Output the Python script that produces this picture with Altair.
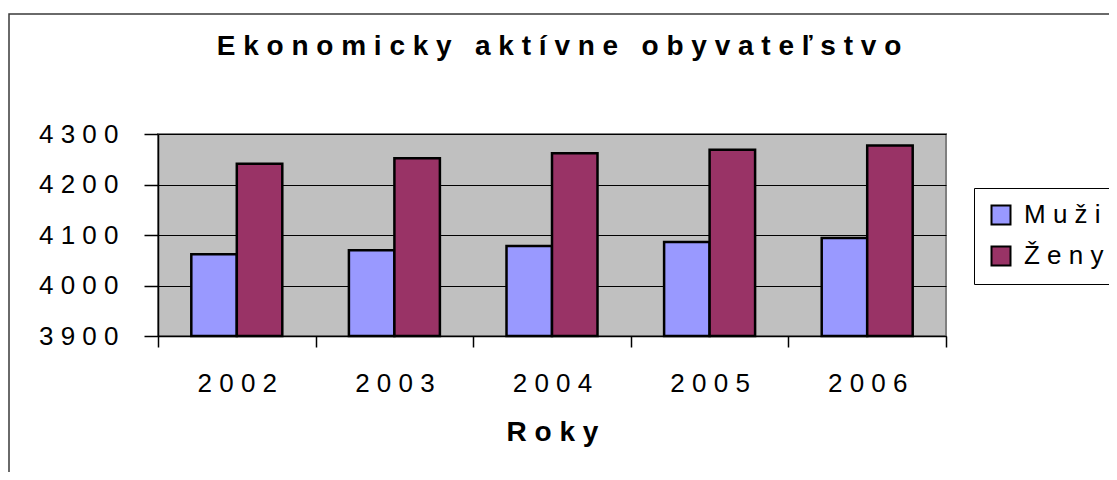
import altair as alt
import pandas as pd

years = ["2002", "2003", "2004", "2005", "2006"]
series = ["Muži", "Ženy"]
muzi = [4062, 4070, 4078, 4086, 4094]
zeny = [4241, 4252, 4262, 4269, 4277]
y_ticks = [3900, 4000, 4100, 4200, 4300]
colors = ["#9999FF", "#993366"]
chart_title = "Ekonomicky aktívne obyvateľstvo"
x_title = "Roky"

FONT = "Liberation Sans"
SPACE_EXPR = "join(split(datum.label, ''), ' ')"


def spaced(text):
    return " \u00a0 ".join(" ".join(word) for word in text.split(" "))


rows = []
for year, m, z in zip(years, muzi, zeny):
    rows.append({"rok": year, "pohlavie": series[0], "hodnota": m})
    rows.append({"rok": year, "pohlavie": series[1], "hodnota": z})
df = pd.DataFrame(rows)

frame = alt.Chart(alt.Data(values=[{"f": 1}])).mark_rect(
    fill="white", fillOpacity=0, stroke="#3a3a3a", strokeWidth=1.5
).encode(
    x=alt.value(-149), x2=alt.value(1100), y=alt.value(-120), y2=alt.value(500)
)

bars = alt.Chart(df).mark_bar(stroke="black", strokeWidth=2.5).encode(
    x=alt.X(
        "rok:N", sort=years,
        scale=alt.Scale(paddingInner=0, paddingOuter=0),
        axis=alt.Axis(
            title=spaced(x_title), labelAngle=0, labelExpr=SPACE_EXPR,
            tickBand="extent", tickSize=11, tickColor="black", tickWidth=1.5,
            domainColor="black", domainWidth=1.5,
            labelFontSize=26, labelColor="black", labelPadding=23,
            titleFontSize=28, titleFontWeight="bold", titleColor="black",
            titlePadding=22, grid=False,
        ),
    ),
    xOffset=alt.XOffset(
        "pohlavie:N", sort=series,
        scale=alt.Scale(paddingInner=0, paddingOuter=0.732),
    ),
    y=alt.Y(
        "hodnota:Q",
        scale=alt.Scale(domain=[3900, 4300], nice=False, zero=False),
        axis=alt.Axis(
            title=None, values=y_ticks, format="d", labelExpr=SPACE_EXPR,
            tickSize=14, tickColor="black", tickWidth=1.5,
            domainColor="black", domainWidth=1.5,
            grid=True, gridColor="black", gridWidth=1,
            labelFontSize=26, labelColor="black", labelPadding=26,
        ),
    ),
    y2=alt.datum(3900),
    color=alt.Color(
        "pohlavie:N", sort=series,
        scale=alt.Scale(domain=series, range=colors),
        legend=alt.Legend(
            title=None, orient="none", legendX=816, legendY=54,
            labelExpr=SPACE_EXPR, labelFontSize=26, labelColor="black",
            symbolType="square", symbolSize=361, symbolStrokeColor="black",
            symbolStrokeWidth=2, symbolOpacity=1,
            fillColor="white", strokeColor="black",
            padding=14, rowPadding=13, labelOffset=10,
        ),
    ),
)

chart = alt.layer(frame, bars).properties(
    width=788,
    height=202,
    autosize="none",
    padding={"left": 150, "top": 126, "right": 163, "bottom": 136},
    title=alt.TitleParams(
        text=spaced(chart_title), fontSize=28, fontWeight="bold", color="black",
        anchor="middle", frame="group", dx=7, dy=31, offset=-39, baseline="alphabetic",
    ),
).configure(font=FONT).configure_view(
    fill="#C0C0C0", stroke="#808080", strokeWidth=2
)

chart.save("out.html", embed_options={"renderer": "svg", "actions": False})
